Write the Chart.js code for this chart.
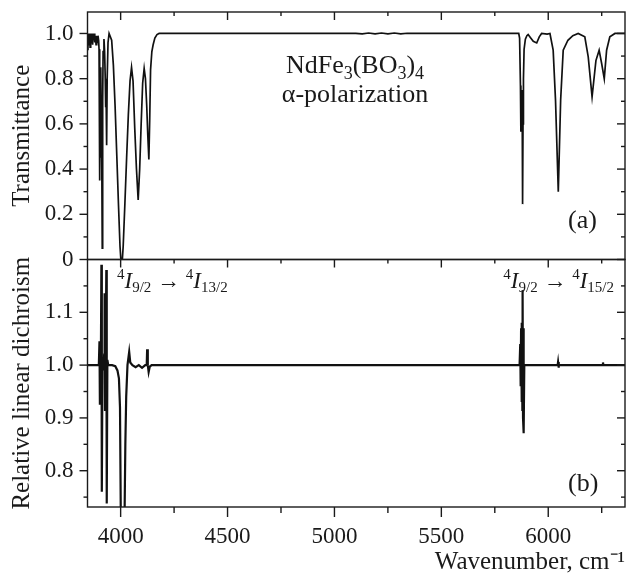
<!DOCTYPE html>
<html>
<head>
<meta charset="utf-8">
<script src="https://cdn.jsdelivr.net/npm/chart.js@4.4.1/dist/chart.umd.min.js"></script>
<style>
  body { margin: 0; background: #fff; }
  #wrap { position: relative; width: 631px; height: 583px; }
  #wrap canvas { position: absolute; left: 0; top: 0; }
</style>
</head>
<body>
<div id="wrap">
  <canvas id="chartA" width="631" height="583"></canvas>
  <canvas id="chartB" width="631" height="583"></canvas>
</div>
<script>
// (a) transmittance
const waveA = [3845, 3847, 3849, 3851, 3853, 3855, 3857, 3859, 3861, 3863, 3865, 3867, 3869, 3871, 3873, 3876, 3879, 3882, 3885, 3888, 3891, 3894, 3897, 3899,
  3901, 3903, 3904, 3906, 3908, 3910, 3912, 3914, 3916, 3918, 3922, 3925, 3928, 3930, 3932, 3934.5, 3937, 3941, 3946, 3950,
  3958, 3966, 3974, 3982, 3990, 3997, 4001, 4008, 4012, 4020, 4028, 4036, 4044, 4051, 4058, 4066, 4074, 4082, 4089, 4096, 4103, 4110,
  4116, 4122, 4127, 4132, 4136, 4140, 4146, 4152, 4160, 4170, 4180, 4400, 4700, 5000, 5100, 5130, 5160, 5190, 5220, 5250, 5280, 5310, 5340, 5370,
  5700, 5862, 5866, 5870, 5872, 5874, 5876, 5878, 5880, 5882, 5884, 5887, 5893, 5900, 5906, 5918, 5930, 5946, 5958, 5969, 5995,
  6008, 6023, 6034, 6047, 6058, 6070, 6092, 6115, 6140, 6171, 6187, 6205, 6223, 6238, 6250, 6262, 6273, 6288, 6312, 6360];
const transA = [0.93, 1.00, 0.95, 1.00, 0.96, 1.00, 0.94, 0.99, 0.95, 1.00, 0.96, 0.99, 0.95, 1.00, 0.97, 1.00, 0.96, 0.99, 0.95, 0.99, 0.96, 0.99, 0.97, 0.93,
  0.60, 0.35, 0.78, 0.45, 0.85, 0.55, 0.40, 0.05, 0.70, 0.92, 0.975, 0.92, 0.80, 0.674, 0.72, 0.506, 0.80, 0.96, 1.00, 1.00,
  0.97, 0.86, 0.68, 0.46, 0.24, 0.06, 0.00, 0.00, 0.06, 0.25, 0.45, 0.64, 0.79, 0.85, 0.79, 0.58, 0.40, 0.263, 0.40, 0.60, 0.78, 0.845,
  0.80, 0.68, 0.55, 0.443, 0.62, 0.84, 0.92, 0.95, 0.98, 0.995, 1.00, 1.00, 1.00, 1.00, 1.00, 0.998, 1.002, 0.998, 1.002, 0.998, 1.002, 0.998, 1.001, 1.00,
  1.00, 1.00, 0.98, 0.77, 0.565, 0.75, 0.62, 0.70, 0.245, 0.60, 0.80, 0.93, 0.975, 0.99, 0.995, 0.98, 0.965, 0.958, 0.985, 1.00, 0.997,
  1.00, 0.926, 0.705, 0.30, 0.705, 0.926, 0.97, 0.99, 1.00, 0.985, 0.896, 0.72, 0.88, 0.926, 0.866, 0.80, 0.926, 0.985, 1.00, 1.00];

// (b) relative linear dichroism
const waveB = [3845, 3870, 3898, 3901, 3903, 3905, 3907, 3910, 3912, 3915, 3919, 3923, 3925, 3927, 3930, 3933, 3935, 3938, 3942, 3960,
  3975, 3985, 3992, 3997, 4001, 4018, 4022, 4026, 4032, 4040, 4045, 4055, 4070, 4085, 4100, 4115, 4122, 4124, 4127, 4131, 4136, 4145,
  4400, 4600, 5000, 5866, 5869, 5871, 5873, 5875, 5877, 5879, 5880, 5882, 5884, 5886, 5888, 5895, 6044, 6046, 6048, 6050, 6254, 6256, 6258, 6360];
const dichB = [1.00, 1.00, 1.00, 1.045, 0.925, 1.03, 0.97, 1.19, 0.76, 1.01, 0.99, 1.02, 1.136, 0.915, 1.01, 1.18, 0.738, 1.01, 1.00, 1.00,
  0.998, 0.99, 0.975, 0.92, 0.70, 0.70, 0.85, 0.94, 1.00, 1.025, 1.005, 1.00, 0.996, 1.00, 0.995, 1.00, 1.00, 1.03, 1.00, 0.987, 0.997, 1.00,
  1.00, 1.00, 1.00, 1.00, 1.04, 0.96, 1.07, 0.93, 1.08, 0.915, 1.142, 0.90, 1.07, 0.871, 1.00, 1.00, 1.00, 1.006, 0.995, 1.00, 1.00, 1.005, 1.00, 1.00];

const xMajor = [4000, 4500, 5000, 5500, 6000];
const xMinor = [4250, 4750, 5250, 5750, 6250];
const yMajorA = [0, 0.2, 0.4, 0.6, 0.8, 1.0];
const yMinorA = [0.1, 0.3, 0.5, 0.7, 0.9];
const yMajorB = [0.8, 0.9, 1.0, 1.1];
const yMinorB = [0.75, 0.85, 0.95, 1.05, 1.15];

const SERIF = "'Liberation Serif', 'Times New Roman', serif";
const INK = '#1a1a1a';
Chart.defaults.font.family = SERIF;
Chart.defaults.color = INK;

// frame with inward ticks on top/right, outward on left (and bottom for panel b)
const frameTicks = {
  id: 'frameTicks',
  afterDatasetsDraw(chart, args, opts) {
    const {ctx, chartArea: a} = chart;
    const x = chart.scales.x, y = chart.scales.y;
    ctx.save();
    ctx.strokeStyle = INK;
    ctx.lineWidth = 1.4;
    ctx.strokeRect(a.left, a.top, a.right - a.left, a.bottom - a.top);
    const seg = (x1, y1, x2, y2) => { ctx.beginPath(); ctx.moveTo(x1, y1); ctx.lineTo(x2, y2); ctx.stroke(); };
    const yTicks = [[opts.yMajor, 8], [opts.yMinor, 4]];
    yTicks.forEach(([vals, len]) => vals.forEach(v => {
      const py = y.getPixelForValue(v);
      seg(a.left - len, py, a.left, py);
      seg(a.right - len, py, a.right, py);
    }));
    [[xMajor, 8], [xMinor, 4]].forEach(([vals, len]) => vals.forEach(v => {
      const px = x.getPixelForValue(v);
      seg(px, a.top, px, a.top + len);
      if (opts.bottom) seg(px, a.bottom, px, a.bottom + len + 2);
    }));
    ctx.restore();
  }
};

function richText(ctx, parts, x, y, align) {
  // parts: [text, size, dy, italic]
  const fontOf = p => (p[3] ? 'italic ' : '') + p[1] + 'px ' + SERIF;
  let w = 0;
  parts.forEach(p => { ctx.font = fontOf(p); w += ctx.measureText(p[0]).width; });
  let cx = align === 'center' ? x - w / 2 : align === 'right' ? x - w : x;
  parts.forEach(p => {
    ctx.font = fontOf(p);
    ctx.fillText(p[0], cx, y + p[2]);
    cx += ctx.measureText(p[0]).width;
  });
}

const labelsA = {
  id: 'labelsA',
  afterDraw(chart) {
    const ctx = chart.ctx;
    ctx.save();
    ctx.fillStyle = INK;
    ctx.textBaseline = 'alphabetic';
    ctx.textAlign = 'left';
    richText(ctx, [['NdFe', 26, 0], ['3', 18, 6], ['(BO', 26, 0], ['3', 18, 6], [')', 26, 0], ['4', 18, 6]], 355, 73, 'center');
    richText(ctx, [['α-polarization', 26, 0]], 355, 102, 'center');
    richText(ctx, [['(a)', 26, 0]], 568, 228, 'left');
    ctx.restore();
  }
};

const labelsB = {
  id: 'labelsB',
  afterDraw(chart) {
    const ctx = chart.ctx;
    ctx.save();
    ctx.fillStyle = INK;
    ctx.textBaseline = 'alphabetic';
    ctx.textAlign = 'left';
    richText(ctx, [['4', 15, -9], ['I', 23, 0, true], ['9/2', 15, 4], [' \u2192 ', 23, 0], ['4', 15, -9], ['I', 23, 0, true], ['13/2', 15, 4]], 117, 288, 'left');
    richText(ctx, [['4', 15, -9], ['I', 23, 0, true], ['9/2', 15, 4], [' \u2192 ', 23, 0], ['4', 15, -9], ['I', 23, 0, true], ['15/2', 15, 4]], 614, 288, 'right');
    richText(ctx, [['(b)', 26, 0]], 568, 491, 'left');
    ctx.restore();
  }
};

function xScale(show) {
  return {
    type: 'linear',
    display: show,
    min: 3845,
    max: 6359,
    afterBuildTicks: s => { s.ticks = xMajor.map(v => ({value: v})); },
    afterFit: s => { s.height = show ? 76 : 0; s.paddingLeft = 0; s.paddingRight = 0; },
    grid: {display: false, drawTicks: false},
    border: {display: false},
    ticks: {padding: 16, font: {size: 23}, color: INK, callback: v => String(v)},
    title: {display: show, text: 'Wavenumber, cm\u207B\u00B9', align: 'end', font: {size: 25}, color: INK, padding: {top: 0, bottom: 6}}
  };
}

function yScale(min, max, majors, title) {
  return {
    min: min,
    max: max,
    afterBuildTicks: s => { s.ticks = majors.map(v => ({value: v})); },
    afterFit: s => { s.width = 87.5; s.paddingTop = 0; s.paddingBottom = 0; },
    grid: {display: false, drawTicks: false},
    border: {display: false},
    ticks: {padding: 14, font: {size: 23}, color: INK, callback: v => (v === 0 ? '0' : v.toFixed(1))},
    title: {display: true, text: title, font: {size: 25}, color: INK, padding: {top: 7, bottom: 0}}
  };
}

function lineSet(xs, ys, width) {
  return {
    data: xs.map((w, i) => ({x: w, y: ys[i]})),
    borderColor: '#111',
    borderWidth: width,
    pointRadius: 0,
    tension: 0,
    fill: false
  };
}

const chartA = new Chart(document.getElementById('chartA'), {
  type: 'line',
  data: {datasets: [lineSet(waveA, transA, 1.7)]},
  options: {
    responsive: false,
    animation: false,
    layout: {padding: {top: 12, right: 6, bottom: 323.5, left: 0}},
    plugins: {legend: {display: false}, tooltip: {enabled: false}, frameTicks: {yMajor: yMajorA, yMinor: yMinorA, bottom: false}},
    scales: {x: xScale(false), y: yScale(0, 1.095, yMajorA, 'Transmittance')}
  },
  plugins: [frameTicks, labelsA]
});

const chartB = new Chart(document.getElementById('chartB'), {
  type: 'line',
  data: {datasets: [lineSet(waveB, dichB, 2.2)]},
  options: {
    responsive: false,
    animation: false,
    layout: {padding: {top: 259.5, right: 6, bottom: 0, left: 0}},
    plugins: {legend: {display: false}, tooltip: {enabled: false}, frameTicks: {yMajor: yMajorB, yMinor: yMinorB, bottom: true}},
    scales: {x: xScale(true), y: yScale(0.7313, 1.2, yMajorB, 'Relative linear dichroism')}
  },
  plugins: [frameTicks, labelsB]
});
</script>
</body>
</html>
